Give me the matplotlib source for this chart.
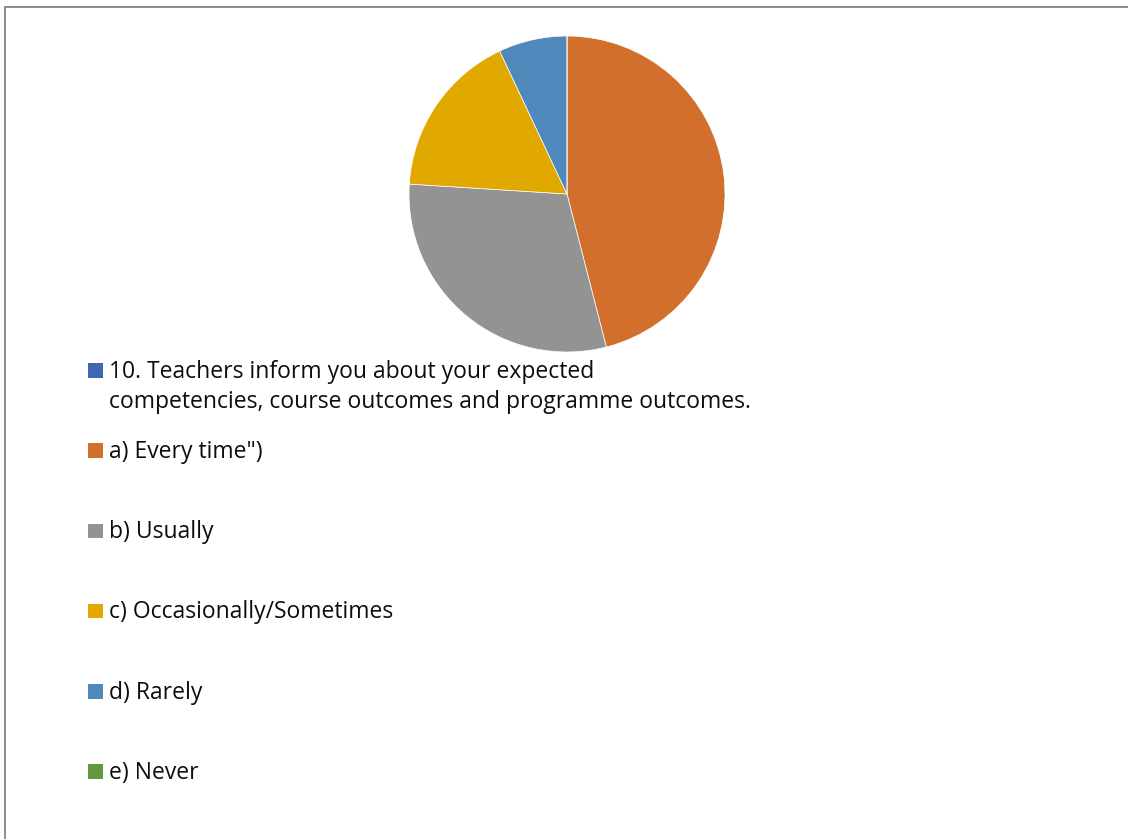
import matplotlib
matplotlib.use("Agg")
import matplotlib.pyplot as plt
from matplotlib.patches import Rectangle
from matplotlib.lines import Line2D

# Survey responses (percent of students)
labels = [
    "10. Teachers inform you about your expected\ncompetencies, course outcomes and programme outcomes.",
    'a) Every time")',
    "b) Usually",
    "c) Occasionally/Sometimes",
    "d) Rarely",
    "e) Never",
]
values = [0, 46, 30, 17, 7, 0]
colors = ["#4068B2", "#D36F2C", "#939393", "#E1A900", "#4F89BC", "#62993E"]

W, H = 1128, 839
DPI = 100
fig = plt.figure(figsize=(W / DPI, H / DPI), dpi=DPI, facecolor="white")

def fx(px):
    return px / W

def fy(py):
    return 1 - py / H

# chart frame (left and top edges)
frame_kw = dict(color="#8C8C8C", linewidth=1.4, transform=fig.transFigure)
fig.add_artist(Line2D([fx(5), fx(5)], [fy(6.5), fy(H + 5)], **frame_kw))
fig.add_artist(Line2D([fx(5), fx(W + 5)], [fy(6.5), fy(6.5)], **frame_kw))

# pie
cx, cy, r = 567, 194, 158
ax = fig.add_axes([fx(cx - r), fy(cy + r), 2 * r / W, 2 * r / H])
ax.pie(values, colors=colors, startangle=90, counterclock=False, radius=1,
       wedgeprops=dict(edgecolor="white", linewidth=0.5))
ax.set_xlim(-1, 1)
ax.set_ylim(-1, 1)
ax.set_aspect("equal")
ax.axis("off")

# legend
font = dict(family=["Open Sans", "DejaVu Sans"], size=16.5, color="#0D0D0D")
marker_x, marker_size = 88.3, 14.5
text_x = 109
first_center = 370.5
step = 80.2
line_gap = 30.5
for i, (lab, col) in enumerate(zip(labels, colors)):
    c = first_center + i * step
    fig.add_artist(Rectangle((fx(marker_x), fy(c + marker_size / 2)),
                             marker_size / W, marker_size / H,
                             transform=fig.transFigure, facecolor=col,
                             edgecolor="none"))
    for j, line in enumerate(lab.split("\n")):
        fig.text(fx(text_x), fy(c + 7.3 + j * line_gap), line,
                 ha="left", va="baseline", **font)

fig.savefig("out.png", dpi=DPI, facecolor="white")
